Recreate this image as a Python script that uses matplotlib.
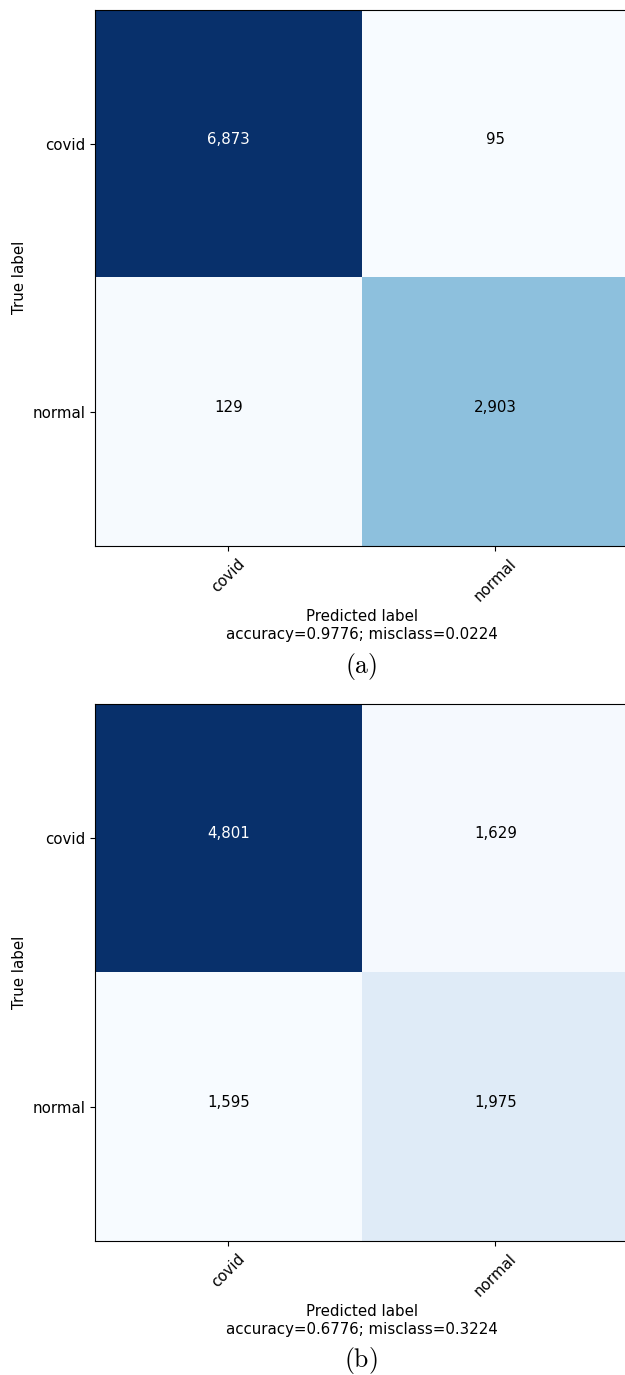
import numpy as np
import matplotlib
matplotlib.use('Agg')
import matplotlib.pyplot as plt

# confusion matrix data
target_names = ['covid', 'normal']
cm_a = [[6873, 95],
        [129, 2903]]
cm_b = [[4801, 1629],
        [1595, 1975]]
captions = ['(a)', '(b)']

plt.rcParams['mathtext.fontset'] = 'cm'
plt.rcParams['font.size'] = 10.8

fig = plt.figure(figsize=(6.25, 13.75), dpi=100)

# axes positions [left, bottom, width, height] in figure fraction
positions = [[0.152, 0.603, 0.854, 0.390],
             [0.152, 0.0975, 0.854, 0.3905]]
caption_y = [0.5156, 0.0102]

for cm, pos, cap, cy in zip([cm_a, cm_b], positions, captions, caption_y):
    cm = np.array(cm)
    ax = fig.add_axes(pos)
    ax.imshow(cm, interpolation='nearest', cmap=plt.get_cmap('Blues'), aspect='auto')

    tick_marks = np.arange(len(target_names))
    ax.set_xticks(tick_marks)
    ax.set_xticklabels(target_names, rotation=45)
    ax.set_yticks(tick_marks)
    ax.set_yticklabels(target_names)

    thresh = cm.max() / 2
    for i in range(cm.shape[0]):
        for j in range(cm.shape[1]):
            ax.text(j, i, '{:,}'.format(cm[i, j]),
                    horizontalalignment='center',
                    color='white' if cm[i, j] > thresh else 'black')

    accuracy = np.trace(cm) / float(np.sum(cm))
    misclass = 1 - accuracy
    ax.set_ylabel('True label')
    ax.set_xlabel('Predicted label\naccuracy={:0.4f}; misclass={:0.4f}'.format(accuracy, misclass))

    fig.text(0.578, cy, r'$\mathrm{' + cap + '}$', fontsize=18.5, ha='center', va='center')

fig.savefig('out.png', dpi=100)
